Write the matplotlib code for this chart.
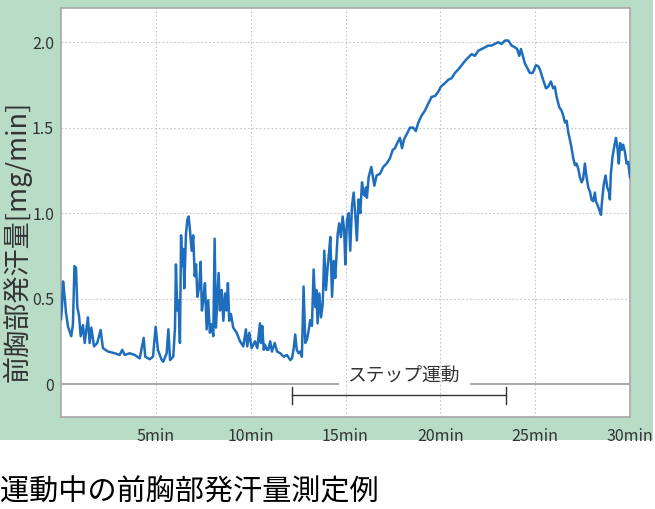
import matplotlib.pyplot as plt
from matplotlib.patches import Rectangle

plt.rcParams['font.family'] = ['Noto Sans CJK JP', 'DejaVu Sans']

# time (min) and sweat rate (mg/min)
minutes = [0.00, 0.05, 0.11, 0.20, 0.26, 0.37, 0.54, 0.63, 0.71, 0.79, 0.86, 0.95,
           1.04, 1.16, 1.25, 1.42, 1.51, 1.60, 1.74, 1.91, 2.09, 2.21, 2.48, 2.83,
           3.09, 3.23, 3.36, 3.62, 3.89, 4.15, 4.36, 4.44, 4.68, 4.85, 4.99, 5.11,
           5.29, 5.39, 5.57, 5.66, 5.75, 5.92, 6.01, 6.06, 6.13, 6.20, 6.27, 6.33,
           6.39, 6.45, 6.50, 6.59, 6.66, 6.73, 6.80, 6.89, 6.97, 7.05, 7.12, 7.19,
           7.29, 7.36, 7.43, 7.50, 7.59, 7.68, 7.76, 7.85, 7.94, 8.03, 8.10, 8.17,
           8.24, 8.31, 8.38, 8.47, 8.56, 8.65, 8.73, 8.80, 8.87, 8.96, 9.08, 9.26,
           9.44, 9.61, 9.75, 9.82, 9.93, 10.05, 10.23, 10.35, 10.49, 10.54, 10.61,
           10.69, 10.75, 10.86, 10.93, 11.03, 11.12, 11.27, 11.39, 11.56, 11.74,
           11.91, 12.09, 12.18, 12.27, 12.35, 12.43, 12.53, 12.61, 12.70, 12.79,
           12.88, 12.97, 13.06, 13.14, 13.23, 13.32, 13.41, 13.46, 13.53, 13.62,
           13.71, 13.80, 13.88, 13.97, 14.06, 14.14, 14.20, 14.29, 14.38, 14.46,
           14.59, 14.67, 14.76, 14.85, 14.93, 14.99, 15.08, 15.17, 15.25, 15.34,
           15.43, 15.51, 15.60, 15.69, 15.78, 15.87, 15.96, 16.03, 16.08, 16.13,
           16.22, 16.36, 16.52, 16.64, 16.82, 16.99, 17.17, 17.34, 17.49, 17.61,
           17.73, 17.87, 17.98, 18.08, 18.22, 18.40, 18.57, 18.71, 18.84, 19.01,
           19.19, 19.36, 19.54, 19.72, 19.89, 20.03, 20.24, 20.42, 20.60, 20.77,
           20.94, 21.12, 21.30, 21.47, 21.65, 21.82, 22.00, 22.18, 22.35, 22.53,
           22.70, 22.88, 23.05, 23.23, 23.41, 23.58, 23.76, 23.93, 24.05, 24.16,
           24.25, 24.37, 24.46, 24.58, 24.72, 24.87, 25.04, 25.16, 25.25, 25.42,
           25.57, 25.69, 25.83, 25.95, 26.04, 26.13, 26.27, 26.39, 26.48, 26.57,
           26.66, 26.74, 26.83, 26.92, 27.01, 27.10, 27.18, 27.27, 27.36, 27.45,
           27.53, 27.62, 27.71, 27.80, 27.89, 27.98, 28.06, 28.15, 28.20, 28.29,
           28.38, 28.47, 28.53, 28.62, 28.71, 28.80, 28.89, 28.94, 28.99, 29.08,
           29.17, 29.26, 29.34, 29.41, 29.48, 29.57, 29.64, 29.73, 29.82, 29.90,
           30.00]
sweat = [0.38, 0.45, 0.60, 0.50, 0.42, 0.335, 0.28, 0.35, 0.69, 0.68, 0.45, 0.40,
         0.28, 0.345, 0.24, 0.39, 0.24, 0.33, 0.22, 0.24, 0.316, 0.21, 0.19, 0.18,
         0.17, 0.20, 0.17, 0.18, 0.17, 0.15, 0.27, 0.16, 0.145, 0.16, 0.335, 0.20,
         0.145, 0.13, 0.18, 0.32, 0.14, 0.16, 0.33, 0.70, 0.43, 0.49, 0.24, 0.87,
         0.69, 0.79, 0.56, 0.88, 0.96, 0.98, 0.90, 0.78, 0.87, 0.63, 0.70, 0.51,
         0.57, 0.715, 0.43, 0.49, 0.59, 0.32, 0.49, 0.30, 0.35, 0.28, 0.85, 0.33,
         0.49, 0.65, 0.43, 0.55, 0.37, 0.53, 0.43, 0.59, 0.37, 0.41, 0.33, 0.30,
         0.25, 0.22, 0.32, 0.22, 0.30, 0.21, 0.25, 0.21, 0.355, 0.24, 0.34,
         0.20, 0.23, 0.20, 0.20, 0.25, 0.19, 0.24, 0.19, 0.18, 0.16,
         0.17, 0.14, 0.15, 0.21, 0.29, 0.20, 0.18, 0.19, 0.16, 0.57,
         0.24, 0.26, 0.316, 0.374, 0.34, 0.67, 0.45, 0.55, 0.355, 0.53,
         0.39, 0.47, 0.78, 0.55, 0.686, 0.78, 0.86, 0.51, 0.72, 0.62,
         0.88, 0.94, 0.86, 0.98, 0.90, 0.70, 0.96, 1.00, 0.78, 1.04,
         1.12, 1.00, 0.84, 1.08, 1.00, 1.18, 1.11, 1.10, 1.15, 1.09,
         1.21, 1.27, 1.16, 1.22, 1.23, 1.27, 1.29, 1.32, 1.37, 1.38,
         1.41, 1.44, 1.38, 1.43, 1.46, 1.50, 1.50, 1.48, 1.53, 1.57,
         1.60, 1.64, 1.68, 1.685, 1.71, 1.74, 1.76, 1.78, 1.79, 1.82,
         1.84, 1.865, 1.89, 1.91, 1.93, 1.92, 1.95, 1.96, 1.97, 1.98,
         1.98, 1.99, 2.00, 1.99, 2.01, 2.01, 1.98, 1.97, 1.96, 1.92,
         1.96, 1.91, 1.875, 1.85, 1.82, 1.82, 1.865, 1.86, 1.84, 1.78,
         1.73, 1.74, 1.77, 1.73, 1.74, 1.68, 1.62, 1.60, 1.57, 1.53,
         1.54, 1.475, 1.43, 1.38, 1.32, 1.28, 1.29, 1.26, 1.21, 1.18,
         1.20, 1.29, 1.21, 1.15, 1.125, 1.076, 1.07, 1.12, 1.07, 1.047,
         1.02, 0.99, 1.076, 1.17, 1.22, 1.15, 1.125, 1.08, 1.23, 1.33,
         1.39, 1.44, 1.38, 1.29, 1.41, 1.37, 1.40, 1.36, 1.29, 1.30,
         1.21]

xticks = [5, 10, 15, 20, 25, 30]
xlabels = ['5min', '10min', '15min', '20min', '25min', '30min']
yticks = [0, 0.5, 1.0, 1.5, 2.0]
ylabels = ['0', '0.5', '1.0', '1.5', '2.0']
step_start, step_end = 12.18, 23.44

green = '#b8dcc5'
gray = '#a8a8a8'
dark = '#333333'

fig = plt.figure(figsize=(6.55, 5.09), dpi=100)
fig.patches.append(Rectangle((0, 69 / 509), 653 / 655, 440 / 509,
                             transform=fig.transFigure, facecolor=green,
                             edgecolor='none', zorder=-5))

ax = fig.add_axes([61 / 655, 92 / 509, 569 / 655, 409 / 509])
ax.set_zorder(2)
ax.set_facecolor('white')
ax.set_xlim(0, 30)
ax.set_ylim(-0.193, 2.2)

# grid
for v in yticks[1:]:
    ax.axhline(v, color='#c4c4c4', lw=0.8, ls=(0, (1.5, 2)), zorder=1)
for v in xticks[:-1]:
    ax.axvline(v, color='#c4c4c4', lw=0.8, ls=(0, (1.5, 2)), zorder=1)

# zero line, broken around the label
ax.plot([0, 14.6], [0, 0], color=gray, lw=1.4, zorder=2)
ax.plot([21.6, 30], [0, 0], color=gray, lw=1.4, zorder=2)
ax.text(18.05, 0.045, 'ステップ運動', ha='center', va='center', fontsize=13.5, color=dark)

# exercise bracket
ax.plot([step_start, step_end], [-0.065, -0.065], color=dark, lw=1)
ax.plot([step_start, step_start], [-0.015, -0.115], color=dark, lw=1)
ax.plot([step_end, step_end], [-0.015, -0.115], color=dark, lw=1)

ax.plot(minutes, sweat, color='#1f6ebd', lw=1.8, zorder=3)

ax.set_xticks(xticks)
ax.set_xticklabels(xlabels)
ax.set_yticks(yticks)
ax.set_yticklabels(ylabels)
ax.tick_params(length=0, labelsize=11.5, labelcolor=dark)
ax.tick_params(axis='x', pad=8)
ax.tick_params(axis='y', pad=5)
for s in ax.spines.values():
    s.set_color(gray)
    s.set_linewidth(1.2)

fig.text(17 / 655, 1 - 241 / 509, '前胸部発汗量[mg/min]', rotation=90,
         ha='center', va='center', fontsize=19.5, color=dark)
fig.text(0, 1 - 492 / 509, '運動中の前胸部発汗量測定例', ha='left', va='center',
         fontsize=21, color='black')

fig.savefig('out.png', dpi=100)
